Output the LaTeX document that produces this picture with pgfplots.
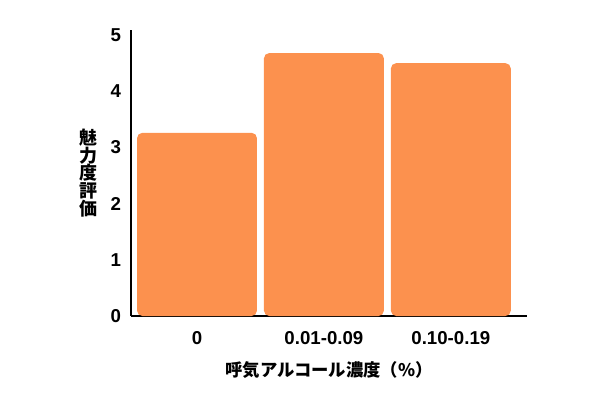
\documentclass[border=0pt]{standalone}
\usepackage{pgfplots}
\pgfplotsset{compat=1.18}
\usepackage{fontspec}
\setmainfont{Liberation Sans}
\newfontfamily\jp{Noto Sans CJK JP}
\definecolor{barorange}{RGB}{252,145,78}
\begin{document}
\begin{tikzpicture}
\path[use as bounding box] (-98.25pt,-63pt) rectangle (351.75pt,237pt);
\begin{axis}[
  at={(0,0)}, anchor=south west,
  scale only axis,
  width=297pt, height=214.5pt,
  axis lines=left,
  axis line style={line width=1.5pt, -},
  xmin=-0.52, xmax=2.60,
  ymin=0, ymax=5.09,
  xtick=data,
  xticklabels={0, 0.01-0.09, 0.10-0.19},
  ytick={0,1,2,3,4,5},
  major tick length=0pt,
  ybar, bar width=0.945,
  /pgf/number format/assume math mode=true,
  tick label style={font=\fontsize{14pt}{16pt}\selectfont\bfseries},
  xticklabel style={yshift=-8pt},
  yticklabel style={xshift=-4pt},
  xlabel={呼気アルコール濃度（\%）},
  xlabel style={font=\jp\bfseries\fontsize{13pt}{15pt}\selectfont, yshift=-6pt},
  ylabel={魅\\力\\度\\評\\価},
  ylabel style={rotate=-90, align=center, xshift=-3pt,
    font=\jp\bfseries\fontsize{13.5pt}{13.4pt}\selectfont},
]
\addplot[fill=barorange, draw=none, rounded corners=4pt]
coordinates {(0,3.26) (1,4.68) (2,4.50)};
\end{axis}
\end{tikzpicture}
\end{document}
